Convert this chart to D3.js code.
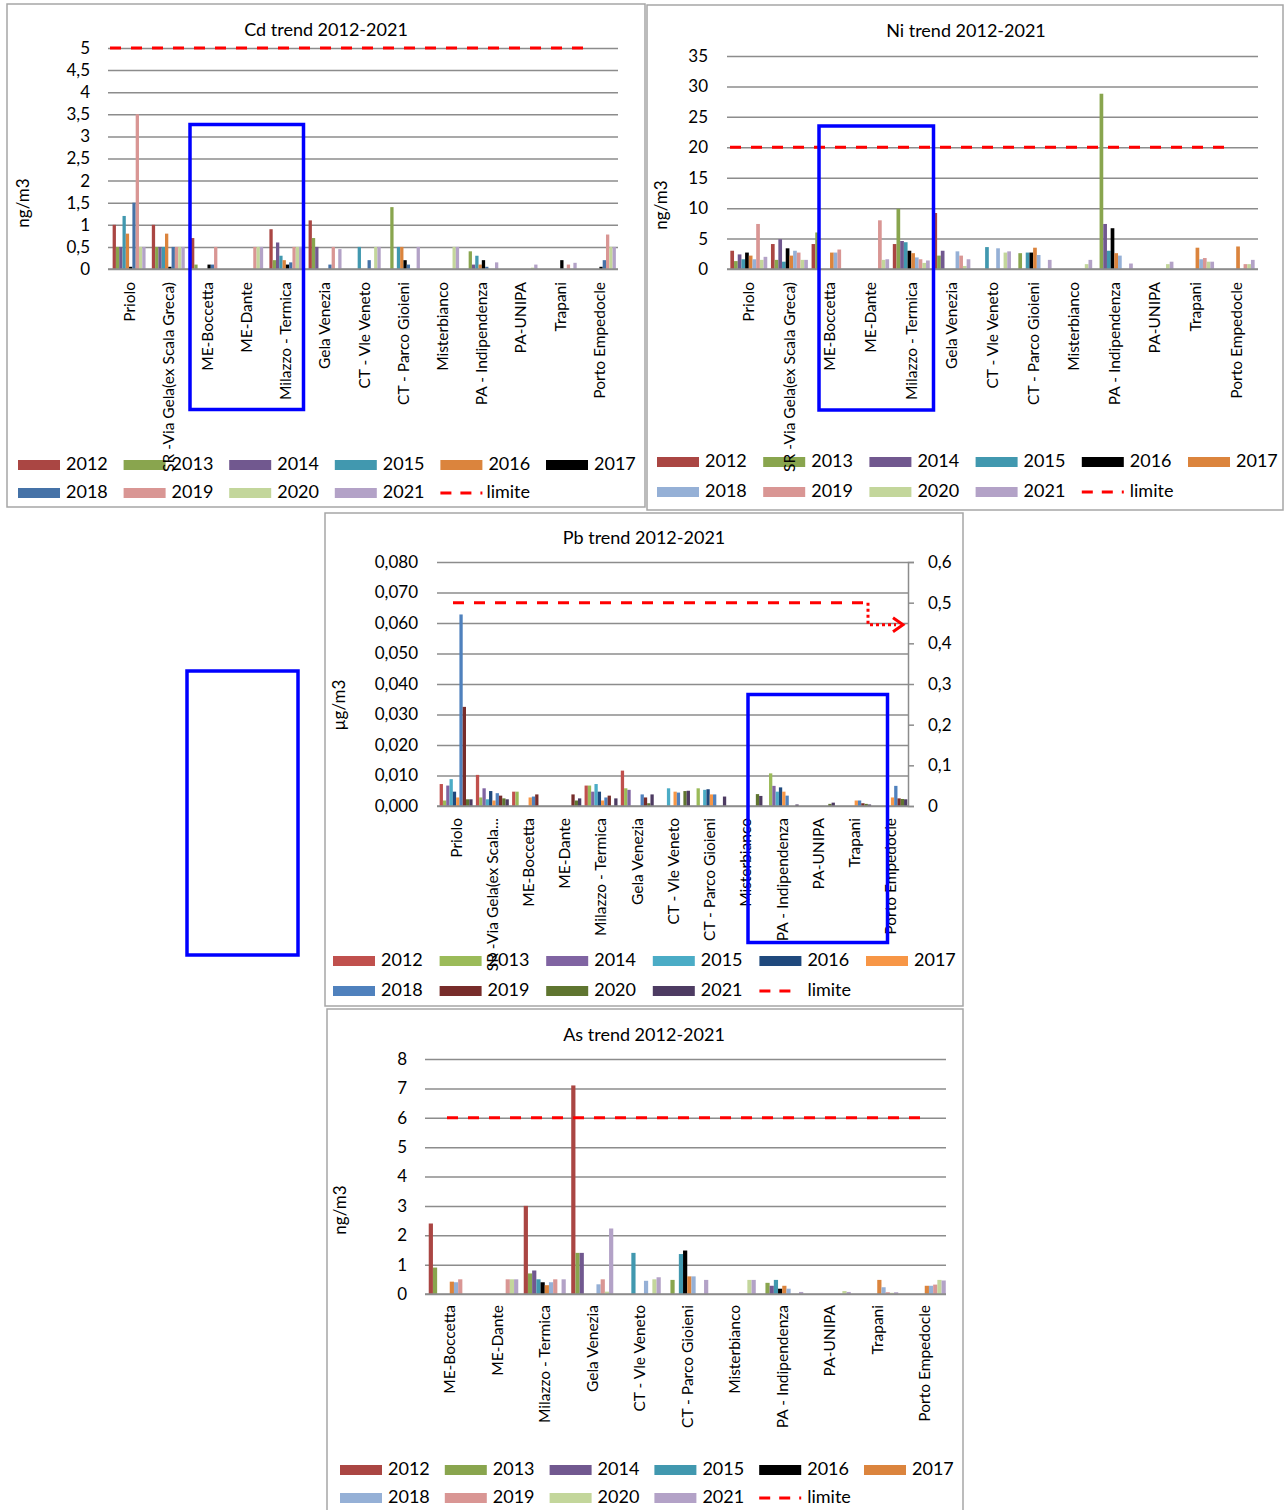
<!DOCTYPE html>
<html>
<head>
<meta charset="utf-8">
<script src="https://cdn.jsdelivr.net/npm/d3@7"></script>
<style>
  body { margin: 0; background: #fff; }
  svg { display: block; font-family: Lato, "Open Sans", sans-serif; }
</style>
</head>
<body>
<svg id="fig" width="1285" height="1510"></svg>
<script>
// ---- data ----
const years = [2012, 2013, 2014, 2015, 2016, 2017, 2018, 2019, 2020, 2021];
const stations = ["Priolo", "SR -Via Gela(ex Scala Greca)", "ME-Boccetta", "ME-Dante", "Milazzo - Termica",
  "Gela Venezia", "CT - Vle Veneto", "CT - Parco Gioieni", "Misterbianco", "PA - Indipendenza",
  "PA-UNIPA", "Trapani", "Porto Empedocle"];
const stationsPb = ["Priolo", "SR -Via Gela(ex Scala...", "ME-Boccetta", "ME-Dante", "Milazzo - Termica",
  "Gela Venezia", "CT - Vle Veneto", "CT - Parco Gioieni", "Misterbianco", "PA - Indipendenza",
  "PA-UNIPA", "Trapani", "Porto Empedocle"];
const stationsAs = stations.slice(2);

const _ = null;
// one row per station, one column per year
const cdValues = [
  [1.0, 0.5, 0.5, 1.2, 0.8, 0.05, 1.5, 3.5, 0.5, 0.5],
  [1.0, 0.5, 0.5, 0.5, 0.8, 0.05, 0.5, 0.5, 0.5, 0.5],
  [0.7, 0.1, _, _, _, 0.1, 0.1, 0.5, _, _],
  [_, _, _, _, _, _, _, 0.5, 0.5, 0.5],
  [0.9, 0.2, 0.6, 0.3, 0.2, 0.1, 0.15, 0.5, 0.5, 0.5],
  [1.1, 0.7, 0.5, _, _, _, 0.1, 0.5, _, 0.45],
  [_, _, _, 0.5, _, _, 0.2, _, 0.5, 0.5],
  [_, 1.4, _, 0.5, 0.5, 0.2, 0.1, _, _, 0.5],
  [_, _, _, _, _, _, _, _, 0.5, 0.5],
  [_, 0.4, 0.1, 0.3, 0.1, 0.2, 0.05, _, _, 0.15],
  [_, _, _, _, _, _, _, _, 0.03, 0.1],
  [_, _, _, _, _, 0.2, _, 0.1, _, 0.14],
  [_, _, _, _, _, 0.05, 0.2, 0.78, 0.5, 0.5]
];
const niValues = [
  [3.0, 1.3, 2.4, 1.6, 2.7, 2.2, 1.6, 7.4, 1.5, 2.0],
  [4.1, 1.5, 4.9, 1.2, 3.4, 2.2, 3.0, 2.7, 1.5, 1.5],
  [4.1, 6.0, _, _, _, 2.7, 2.7, 3.2, _, _],
  [_, _, _, _, _, _, _, 8.0, 1.5, 1.6],
  [4.1, 9.9, 4.6, 4.4, 3.0, 2.6, 1.9, 1.6, 1.0, 1.4],
  [9.2, 2.2, 3.0, _, _, _, 2.9, 2.2, 0.5, 1.6],
  [_, _, _, 3.6, _, _, 3.4, _, 2.7, 2.9],
  [_, 2.6, _, 2.7, 2.7, 3.5, 2.3, _, _, 1.5],
  [_, _, _, _, _, _, _, _, 0.8, 1.5],
  [_, 28.8, 7.4, 3.0, 6.7, 2.6, 2.2, _, _, 0.9],
  [_, _, _, _, _, _, _, _, 0.8, 1.2],
  [_, _, _, _, _, 3.5, 1.6, 1.8, 1.2, 1.2],
  [_, _, _, _, _, 3.7, _, 0.8, 0.8, 1.5]
];
const pbValues = [
  [0.0072, 0.0018, 0.0067, 0.0088, 0.0047, 0.0028, 0.0628, 0.0325, 0.0022, 0.0022],
  [0.0102, 0.0028, 0.0058, 0.0022, 0.0049, 0.0018, 0.0042, 0.0034, 0.0025, 0.0022],
  [0.0047, 0.0047, _, _, _, 0.0028, 0.0031, 0.0038, _, _],
  [_, _, _, _, _, _, _, 0.0038, 0.0018, 0.0025],
  [0.0067, 0.0067, 0.0047, 0.0072, 0.0047, 0.0018, 0.0028, 0.0034, _, 0.0025],
  [0.0116, 0.0058, 0.0053, _, _, _, 0.0038, 0.0028, 0.0009, 0.0038],
  [_, _, _, 0.0058, _, 0.0047, 0.0044, _, 0.0049, 0.0050],
  [_, 0.0058, _, 0.0053, 0.0055, 0.0038, 0.0038, _, _, 0.0031],
  [_, _, _, _, _, _, _, _, 0.0039, 0.0033],
  [_, 0.0107, 0.0066, 0.0047, 0.0061, 0.0047, 0.0034, _, _, 0.0005],
  [_, _, _, _, _, _, _, _, 0.0007, 0.0011],
  [_, _, _, _, _, 0.0018, 0.0018, 0.0009, 0.0007, 0.0005],
  [_, _, _, _, _, 0.0028, 0.0066, 0.0025, 0.0023, 0.0022]
];
const asValues = [
  [2.4, 0.9, _, _, _, 0.42, 0.4, 0.5, _, _],
  [_, _, _, _, _, _, _, 0.5, 0.5, 0.5],
  [3.0, 0.7, 0.8, 0.5, 0.4, 0.3, 0.4, 0.5, _, 0.5],
  [7.1, 1.4, 1.4, _, _, _, 0.33, 0.5, 0.08, 2.23],
  [_, _, _, 1.4, _, _, 0.45, _, 0.5, 0.57],
  [_, 0.48, _, 1.36, 1.48, 0.6, 0.6, _, _, 0.48],
  [_, _, _, _, _, _, _, _, 0.48, 0.48],
  [_, 0.38, 0.28, 0.48, 0.18, 0.28, 0.18, _, _, 0.07],
  [_, _, _, _, _, _, _, _, 0.1, 0.07],
  [_, _, _, _, _, 0.48, 0.23, 0.06, 0.04, 0.06],
  [_, _, _, _, _, 0.28, 0.28, 0.32, 0.48, 0.46]
];

const cdLimit = 5, niLimit = 20, pbLimit = 0.5, asLimit = 6;

const cdTicks = d3.range(0, 5.01, 0.5);
const niTicks = d3.range(0, 36, 5);
const pbTicks = d3.range(0, 0.0801, 0.01);
const pbRightTicks = d3.range(0, 0.601, 0.1);
const asTicks = d3.range(0, 9, 1);

const cdColors = ["#aa4643", "#89a54e", "#71588f", "#4198af", "#db843d", "#000000", "#4572a7", "#d99694", "#c3d69b", "#b3a2c7"];
const niColors = ["#aa4643", "#89a54e", "#71588f", "#4198af", "#000000", "#db843d", "#95b0d6", "#d99694", "#c3d69b", "#b3a2c7"];
const pbColors = ["#c0504d", "#9bbb59", "#8064a2", "#4bacc6", "#1f497d", "#f79646", "#4f81bd", "#772c2a", "#5f7530", "#4d3b62"];
const asColors = niColors;

// ---- drawing ----
const svg = d3.select("#fig");
const it = d3.formatLocale({decimal: ",", thousands: ".", grouping: [3], currency: ["", "€"]});
const gridColor = "#8c8c8c";
const font = "Lato, 'Open Sans', sans-serif";

function drawChart(cfg) {
  const g = svg.append("g");

  g.append("rect")
    .attr("x", cfg.panel[0]).attr("y", cfg.panel[1])
    .attr("width", cfg.panel[2]).attr("height", cfg.panel[3])
    .attr("fill", "#fff").attr("stroke", "#a6a6a6").attr("stroke-width", 1.5);

  g.append("text")
    .attr("x", cfg.title[0]).attr("y", cfg.title[1])
    .attr("text-anchor", "middle").attr("dominant-baseline", "middle")
    .attr("font-size", 18).text(cfg.titleText);

  g.append("text")
    .attr("transform", `translate(${cfg.ylab[0]},${cfg.ylab[1]}) rotate(-90)`)
    .attr("text-anchor", "middle").attr("dominant-baseline", "middle")
    .attr("font-size", 17).text(cfg.ylabText);

  const x = d3.scaleBand().domain(cfg.cats).range([cfg.left, cfg.right]);
  // gap between station groups, as a fraction of one bar
  const inner = d3.scaleBand().domain(years)
    .range([0, x.bandwidth()]).paddingOuter(cfg.groupGap);
  const y = d3.scaleLinear().domain(cfg.yDomain).range([cfg.bottom, cfg.top]);

  // gridlines + left tick labels
  const yAxis = g.append("g")
    .attr("transform", `translate(${cfg.gridLeft},0)`)
    .call(d3.axisLeft(y).tickValues(cfg.ticks).tickFormat(cfg.fmt)
      .tickSize(-(cfg.gridRight - cfg.gridLeft)).tickPadding(cfg.tickPad));
  yAxis.select(".domain").remove();
  yAxis.selectAll("line").attr("stroke", gridColor).attr("stroke-width", 1.5);
  yAxis.selectAll("text").attr("font-size", 17).attr("font-family", font).attr("fill", "#000");

  // bars
  const rows = [];
  cfg.values.forEach((row, i) => row.forEach((v, j) => {
    if (v != null) rows.push({cat: cfg.cats[i], year: years[j], value: v, color: cfg.colors[j]});
  }));
  g.append("g").selectAll("rect").data(rows).join("rect")
    .attr("x", d => x(d.cat) + inner(d.year))
    .attr("width", inner.bandwidth())
    .attr("y", d => y(d.value))
    .attr("height", d => y(0) - y(d.value))
    .attr("fill", d => d.color);

  // limit line
  const yl = cfg.limitScale || y;
  g.append("line")
    .attr("x1", cfg.limitX[0]).attr("x2", cfg.limitX[1])
    .attr("y1", yl(cfg.limit)).attr("y2", yl(cfg.limit))
    .attr("stroke", "#ff0000").attr("stroke-width", 3).attr("stroke-dasharray", "11,10");

  // legend
  const legendItems = years.map((yr, j) => ({label: String(yr), color: cfg.colors[j]}))
    .concat([{label: "limite", limit: true}]);
  const lg = g.append("g").selectAll("g").data(legendItems).join("g")
    .attr("transform", (d, i) => `translate(${cfg.legendX + (i % 6) * cfg.legendStep},${cfg.legendY[Math.floor(i / 6)]})`);
  lg.filter(d => !d.limit).append("rect")
    .attr("x", 0).attr("y", -5).attr("width", 42).attr("height", 10).attr("fill", d => d.color);
  lg.filter(d => d.limit).append("line")
    .attr("x1", 0).attr("x2", cfg.limitLegendLen).attr("y1", 0).attr("y2", 0)
    .attr("stroke", "#ff0000").attr("stroke-width", 3).attr("stroke-dasharray", "11,9");
  lg.append("text")
    .attr("x", d => d.limit ? cfg.limitLabelDx : 48).attr("y", 0)
    .attr("dominant-baseline", "middle").attr("font-size", 18).text(d => d.label);

  // category axis (drawn last, labels overlap the legend like the original)
  const xAxis = g.append("g")
    .attr("transform", `translate(0,${y(0)})`)
    .call(d3.axisBottom(x).tickSize(0).tickSizeOuter(0));
  xAxis.select(".domain").attr("stroke", gridColor).attr("stroke-width", 1.5)
    .attr("d", `M${cfg.gridLeft},0H${cfg.gridRight}`);
  xAxis.selectAll("text")
    .attr("font-size", 15.5).attr("font-family", font).attr("fill", "#000")
    .attr("transform", "rotate(-90)")
    .attr("text-anchor", "end")
    .attr("x", -cfg.labelOffset).attr("y", 0).attr("dy", "0.35em");

  return {g, x, y};
}

drawChart({
  panel: [7, 4, 638, 503], title: [326, 31], titleText: "Cd trend 2012-2021",
  ylab: [25, 203], ylabText: "ng/m3",
  cats: stations, values: cdValues, colors: cdColors,
  left: 109.5, right: 619, top: 48, bottom: 269, gridLeft: 108, gridRight: 618,
  yDomain: [0, 5], ticks: cdTicks, fmt: it.format(".1~f"), tickPad: 18, groupGap: 0.95,
  limit: cdLimit, limitX: [110, 590],
  legendX: 18, legendStep: 105.6, legendY: [465, 493], limitLegendLen: 42, limitLabelDx: 46,
  labelOffset: 13
});

drawChart({
  panel: [647, 5, 636, 505], title: [966, 32], titleText: "Ni trend 2012-2021",
  ylab: [663, 205], ylabText: "ng/m3",
  cats: stations, values: niValues, colors: niColors,
  left: 728.5, right: 1256.5, top: 56, bottom: 269, gridLeft: 727, gridRight: 1258,
  yDomain: [0, 35], ticks: niTicks, fmt: it.format("d"), tickPad: 19, groupGap: 0.5,
  limit: niLimit, limitX: [730, 1234],
  legendX: 657, legendStep: 106.2, legendY: [462, 492], limitLegendLen: 42, limitLabelDx: 48,
  labelOffset: 13
});

const pb = drawChart({
  panel: [325, 513, 638, 493], title: [644, 539], titleText: "Pb trend 2012-2021",
  ylab: [341, 705], ylabText: "µg/m3",
  cats: stationsPb, values: pbValues, colors: pbColors,
  left: 438, right: 909, top: 562, bottom: 806, gridLeft: 437, gridRight: 908,
  yDomain: [0, 0.08], ticks: pbTicks, fmt: it.format(".3f"), tickPad: 19, groupGap: 0.5,
  limit: pbLimit, limitScale: d3.scaleLinear().domain([0, 0.6]).range([806, 562]), limitX: [453, 868],
  legendX: 333, legendStep: 106.6, legendY: [961, 991], limitLegendLen: 32, limitLabelDx: 48,
  labelOffset: 12
});

// secondary axis of the Pb chart
const yRight = d3.scaleLinear().domain([0, 0.6]).range([806, 562]);
const rAxis = pb.g.append("g")
  .attr("transform", "translate(908,0)")
  .call(d3.axisRight(yRight).tickValues(pbRightTicks).tickFormat(it.format(".1~f")).tickSize(6).tickPadding(14));
rAxis.selectAll("line, path").attr("stroke", gridColor).attr("stroke-width", 1.5);
rAxis.selectAll("text").attr("font-size", 17).attr("font-family", font).attr("fill", "#000");

// dotted arrow from the limit to the right axis
const yArrow = yRight(0.5) + 22;
pb.g.append("path")
  .attr("d", `M868,${yRight(0.5)}V${yArrow}H896`)
  .attr("fill", "none").attr("stroke", "#ff0000").attr("stroke-width", 3).attr("stroke-dasharray", "3,3");
pb.g.append("path")
  .attr("d", `M893,${yArrow - 7}L903,${yArrow}L893,${yArrow + 7}`)
  .attr("fill", "none").attr("stroke", "#ff0000").attr("stroke-width", 3);

drawChart({
  panel: [327, 1009, 636, 503], title: [644, 1036], titleText: "As trend 2012-2021",
  ylab: [342, 1210], ylabText: "ng/m3",
  cats: stationsAs, values: asValues, colors: asColors,
  left: 426, right: 948.5, top: 1059, bottom: 1294, gridLeft: 425, gridRight: 946,
  yDomain: [0, 8], ticks: asTicks, fmt: it.format("d"), tickPad: 18, groupGap: 0.65,
  limit: asLimit, limitX: [447, 926],
  legendX: 340, legendStep: 104.8, legendY: [1470, 1498], limitLegendLen: 42, limitLabelDx: 48,
  labelOffset: 11
});

// blue highlight boxes
const boxes = [
  [190, 124.5, 113.5, 285],
  [819, 126, 114.5, 284],
  [187, 671, 111, 284],
  [748, 694.5, 139.5, 248]
];
svg.append("g").selectAll("rect").data(boxes).join("rect")
  .attr("x", d => d[0]).attr("y", d => d[1]).attr("width", d => d[2]).attr("height", d => d[3])
  .attr("fill", "none").attr("stroke", "#0000ff").attr("stroke-width", 3.5);
</script>
</body>
</html>
